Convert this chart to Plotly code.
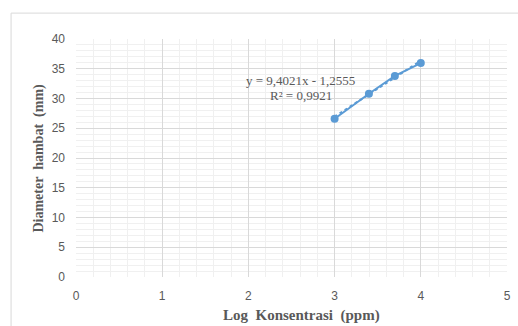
import plotly.graph_objects as go

# Data
log_konsentrasi = [3.0, 3.398, 3.699, 4.0]
diameter_hambat = [26.6, 30.8, 33.8, 35.95]
slope = 9.4021
intercept = -1.2555
r2 = 0.9921
x_ticks = [0, 1, 2, 3, 4, 5]
y_ticks = [0, 5, 10, 15, 20, 25, 30, 35, 40]

blue = "#5B9BD5"
gray_text = "#595959"

trend_x = [min(log_konsentrasi), max(log_konsentrasi)]
trend_y = [slope * v + intercept for v in trend_x]

fig = go.Figure()
fig.add_trace(go.Scatter(x=trend_x, y=trend_y, mode="lines",
                         line=dict(color=blue, width=2, dash="dot"),
                         hoverinfo="skip", showlegend=False))
fig.add_trace(go.Scatter(x=log_konsentrasi, y=diameter_hambat, mode="lines+markers",
                         line=dict(color=blue, width=2),
                         marker=dict(color=blue, size=8),
                         showlegend=False))

def fmt(v):
    return f"{v:.4f}".replace(".", ",")

eq = f"y = {fmt(slope)}x - {fmt(abs(intercept))}"
rr = f"R² = {fmt(r2)}"
fig.add_annotation(x=2.61, y=33.1, text=eq, showarrow=False, xanchor="center", yanchor="middle",
                   borderpad=0,
                   font=dict(family="Liberation Serif", size=13, color=gray_text))
fig.add_annotation(x=2.61, y=30.45, text=rr, showarrow=False, xanchor="center", yanchor="middle",
                   borderpad=0,
                   font=dict(family="Liberation Serif", size=13, color=gray_text))

W, H = 518, 326
L, R, T, B = 75.5, 11, 38.5, 48.5
pw = W - L - R
ph = H - T - B

def px(xp):
    return (xp - L) / pw

def py(yp):
    return (H - B - yp) / ph

fig.add_annotation(x=px(301), y=py(316), xref="paper", yref="paper", showarrow=False,
                   text="Log  Konsentrasi  (ppm)", xanchor="center", yanchor="middle",
                   font=dict(family="Liberation Serif", size=15, color=gray_text, weight="bold"))
fig.add_annotation(x=px(38), y=py(158), xref="paper", yref="paper", showarrow=False,
                   text="Diameter  hambat  (mm)", textangle=-90, xanchor="center", yanchor="middle",
                   font=dict(family="Liberation Serif", size=14, color=gray_text, weight="bold"))

fig.add_shape(type="rect", xref="paper", yref="paper",
              x0=px(10.5), y0=py(345), x1=px(540), y1=py(12.5),
              line=dict(color="#D9D9D9", width=1), fillcolor="rgba(0,0,0,0)", layer="below")

fig.update_layout(
    width=W, height=H,
    margin=dict(l=L, r=R, t=T, b=B, autoexpand=False),
    paper_bgcolor="white", plot_bgcolor="white",
    showlegend=False,
    xaxis=dict(range=[0, 5], tickvals=x_ticks, showgrid=True, gridcolor="#D9D9D9", gridwidth=1,
               zeroline=False, showline=False, automargin=False,
               minor=dict(dtick=0.2, showgrid=True, gridcolor="#F0F0F0", gridwidth=1),
               tickfont=dict(family="Liberation Sans", size=12, color=gray_text),
               ticks="", ticklabelstandoff=10),
    yaxis=dict(range=[0, 40], tickvals=y_ticks, showgrid=True, gridcolor="#D9D9D9", gridwidth=1,
               zeroline=False, showline=False, automargin=False,
               minor=dict(dtick=1, showgrid=True, gridcolor="#F0F0F0", gridwidth=1),
               tickfont=dict(family="Liberation Sans", size=12, color=gray_text),
               ticks="", ticklabelstandoff=10),
)

fig.write_html("out.html", config={"displayModeBar": False},
               post_script="document.body.style.margin='0';document.body.style.overflow='hidden';")
